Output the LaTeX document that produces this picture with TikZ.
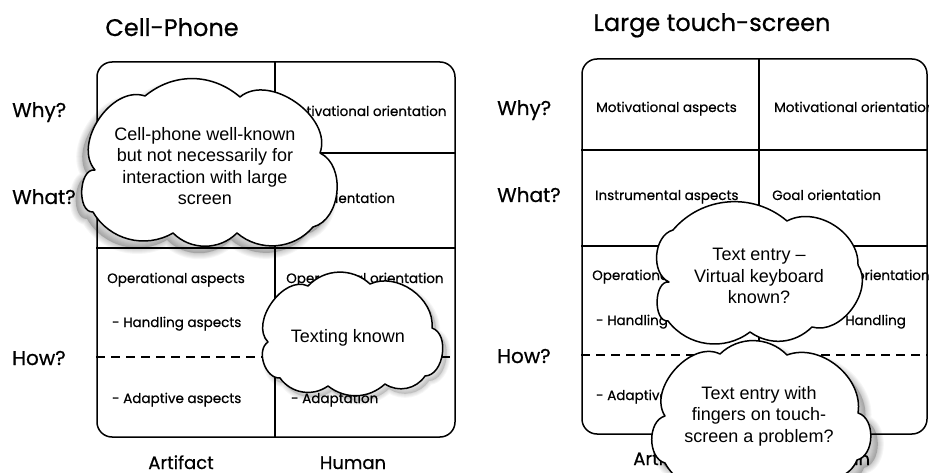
\documentclass[tikz,border=0pt]{standalone}
\usepackage{fontspec}
\setmainfont{Poppins}[FakeBold=0.6]
\newfontfamily\cloudfont{Liberation Sans}
% cloud outlines (page pixels, y downwards), traversed clockwise on the page
\newcommand\cpathA{(95,170) to[bend left=75] (145,96) to[bend left=40] (240,97)
  to[bend left=75] (320,153) to[bend left=70] (313,227) to[bend left=45] (237,233)
  to[bend left=45] (173,233) to[bend left=45] (93,212) to[bend left=95] (95,170) -- cycle}
\newcommand\cpathB{(268,342) to[bend left=80] (308,286) to[bend left=45] (370,284)
  to[bend left=60] (432,328) to[bend left=80] (425,376) to[bend left=45] (385,384)
  to[bend left=40] (328,386) to[bend left=45] (280,378) to[bend left=75] (268,342) -- cycle}
\newcommand\cpathC{(669,282) to[bend left=70] (673,230) to[bend left=45] (787,221)
  to[bend left=60] (858,265) to[bend left=70] (812,327) to[bend left=40] (750,332)
  to[bend left=45] (668,321) to[bend left=95] (669,282) -- cycle}
\newcommand\cpathD{(665,416) to[bend left=75] (720,354) to[bend left=45] (787,355)
  to[bend left=60] (858,413) to[bend left=75] (857,460) to[bend left=50] (813,475)
  to[bend left=45] (750,480) to[bend left=50] (665,463) to[bend left=75] (665,416) -- cycle}
\begin{document}
\begin{tikzpicture}[x=1pt,y=-1pt,
  frame/.style={draw, line width=1.5pt, rounded corners=15pt, inner sep=0pt},
  gridline/.style={line width=1.5pt},
  dashline/.style={line width=1.5pt, dash pattern=on 9pt off 6pt},
  ttl/.style={font=\fontsize{24}{28}\selectfont, anchor=base},
  rowlbl/.style={font=\fontsize{20}{24}\selectfont, anchor=base west, inner sep=0pt},
  collbl/.style={font=\fontsize{18}{20}\selectfont, anchor=base, inner sep=0pt, text depth=0pt},
  cell/.style={font=\fontsize{13.5}{16}\selectfont, anchor=base west, inner sep=0pt},
  cloudline/.style={draw, fill=white, line width=1.5pt, line join=round},
  cloudtext/.style={align=center, inner sep=0pt, font=\cloudfont\fontsize{18}{21.5}\selectfont},
  haze/.style={draw=black, fill=black, draw opacity=0.035, fill opacity=0.035, line join=round}
]
\useasboundingbox (0,0) rectangle (929,473);

% ---------------- Left panel ----------------
\node[ttl] (tL) at (172,36) {Cell-Phone};
\node[frame, minimum width=358pt, minimum height=375pt] (L) at (276,249.5) {};
\coordinate (Lv) at (275,0);
\coordinate (Lh1) at (0,153);
\coordinate (Lh2) at (0,248);
\coordinate (Ld) at (0,357);
\draw[gridline] (L.north -| Lv) -- (L.south -| Lv);
\draw[gridline] (L.west |- Lh1) -- (L.east |- Lh1);
\draw[gridline] (L.west |- Lh2) -- (L.east |- Lh2);
\draw[dashline] (L.west |- Ld) -- (L.east |- Ld);

\node[rowlbl] (Lwhy) at (12,117) {Why?};
\node[rowlbl] (Lwhat) at (12,204) {What?};
\node[rowlbl] (Lhow) at (12,365) {How?};
\node[collbl] (Lart) at (181,469) {Artifact};
\node[collbl] (Lhum) at (353,469) {Human};

\node[cell] (Lmo) at (286,116) {Motivational orientation};
\node[cell] (Lgo) at (286,203) {Goal orientation};
\node[cell] (Loa) at (107,283) {Operational aspects};
\node[cell] (Lha) at (112,327) {- Handling aspects};
\node[cell] (Lad) at (112,403) {- Adaptive aspects};
\node[cell] (Loo) at (286,283) {Operational orientation};
\node[cell] (Lap) at (291,403) {- Adaptation};

% cloud 1 with shadow
\foreach \k in {2,4,...,12}
  \path[haze, line width=\k pt, shift={(-6,7)}] \cpathA;
\path[cloudline] \cpathA;
\node[cloudtext] (c1) at (205,166)
  {Cell-phone well-known\\but not necessarily for\\interaction with large\\screen};
% cloud 2 with faint shadow
\foreach \k in {2,4,...,8}
  \path[haze, line width=\k pt, shift={(4,5)}] \cpathB;
\path[cloudline] \cpathB;
\node[cloudtext, anchor=base] (c2) at (348,342) {Texting known};

% ---------------- Right panel ----------------
\node[ttl] (tR) at (712,31) {Large touch-screen};
\node[frame, minimum width=345pt, minimum height=375pt] (R) at (754.5,246.5) {};
\coordinate (Rv) at (759,0);
\coordinate (Rh1) at (0,150);
\coordinate (Rh2) at (0,246);
\coordinate (Rd) at (0,355);
\draw[gridline] (R.north -| Rv) -- (R.south -| Rv);
\draw[gridline] (R.west |- Rh1) -- (R.east |- Rh1);
\draw[gridline] (R.west |- Rh2) -- (R.east |- Rh2);
\draw[dashline] (R.west |- Rd) -- (R.east |- Rd);

\node[rowlbl] (Rwhy) at (497,115) {Why?};
\node[rowlbl] (Rwhat) at (497,202) {What?};
\node[rowlbl] (Rhow) at (497,363) {How?};
\node[collbl] (Rart) at (666,465) {Artifact};
\node[collbl] (Rhum) at (837,465) {Human};

\node[cell] (Rma) at (596,112) {Motivational aspects};
\node[cell] (Rmo) at (774,112) {Motivational orientation};
\node[cell] (Ria) at (595,200) {Instrumental aspects};
\node[cell] (Rgo) at (772,200) {Goal orientation};
\node[cell] (Roa) at (592,280) {Operational aspects};
\node[cell] (Rha) at (596,325) {- Handling aspects};
\node[cell] (Rad) at (596,400) {- Adaptive aspects};
\node[cell] (Roo) at (772,280) {Operational orientation};
\node[cell] (Rhh) at (834,325) {- Handling};

% cloud 3
\path[cloudline] \cpathC;
\node[cloudtext] (c3) at (759,276) {Text entry –\\Virtual keyboard\\known?};
% cloud 4 with shadow
\foreach \k in {2,4,...,12}
  \path[haze, line width=\k pt, shift={(7,8)}] \cpathD;
\path[cloudline] \cpathD;
\node[cloudtext] (c4) at (759,416) {Text entry with\\fingers on touch-\\screen a problem?};
\end{tikzpicture}
\end{document}
